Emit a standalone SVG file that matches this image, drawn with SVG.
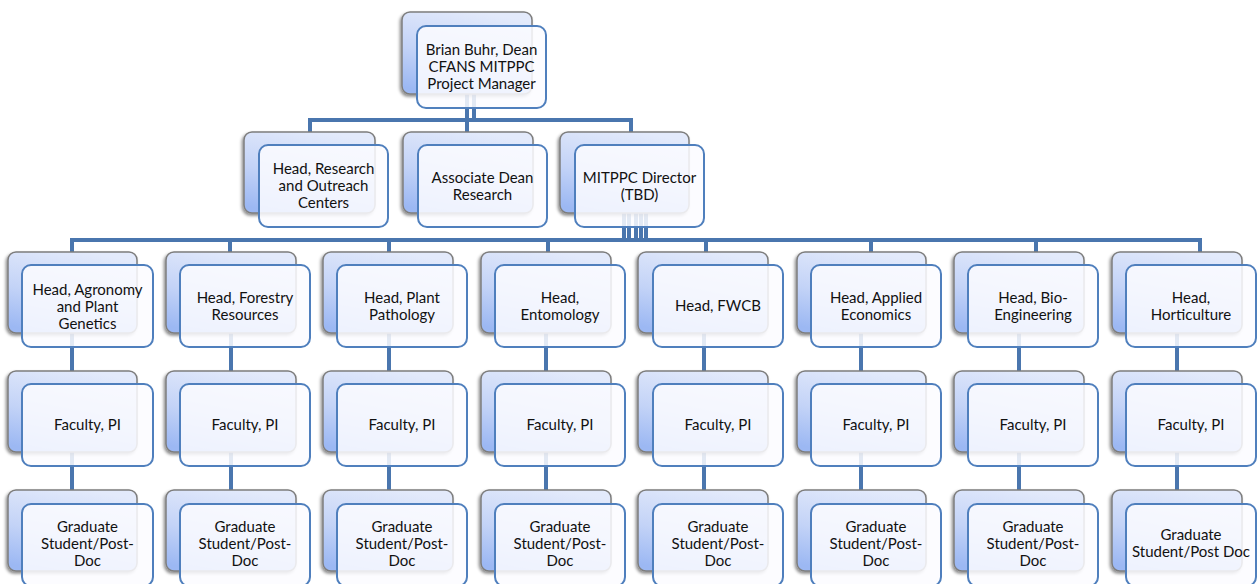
<svg xmlns="http://www.w3.org/2000/svg" width="1257" height="584" viewBox="0 0 1257 584">
<defs>
<linearGradient id="bg" x1="0.6" y1="0" x2="0.3" y2="1">
<stop offset="0" stop-color="#e3eafb"/>
<stop offset="0.55" stop-color="#c3d3f7"/>
<stop offset="1" stop-color="#9cb8f3"/>
</linearGradient>
<filter id="sh" x="-10%" y="-10%" width="120%" height="125%">
<feDropShadow dx="-1.5" dy="2" stdDeviation="1.5" flood-color="#000" flood-opacity="0.45"/>
</filter>
</defs>
<style>
.back{fill:url(#bg);stroke:#7d7d7d;stroke-width:1.5;filter:url(#sh)}
.front{fill:#fbfcff;fill-opacity:0.86;stroke:#4f7fbd;stroke-width:2}
.c{stroke:#4a76ae;stroke-width:4;fill:none;stroke-linecap:square}
text{font-family:Lato,"Open Sans","Liberation Sans",sans-serif;font-size:15px;fill:#111;text-anchor:middle}
</style>
<rect width="1257" height="584" fill="#fff"/>
<g id="connectors">
<path class="c" d="M467 60V132M474 60V120M310 120H631M310 120V140M631 120V140"/>
<path class="c" d="M624 180V240M629 180V240M636 180V240M641 180V240M646 180V240"/>
<path class="c" d="M72 240H1200M72 240V260M230 240V260M389 240V260M548 240V260M706 240V260M871 240V260M1036 240V260M1200 240V260"/>
<path class="c" d="M72 300V380M72 420V500M231 300V380M231 420V500M389 300V380M389 420V500M546 300V380M546 420V500M704 300V380M704 420V500M861 300V380M861 420V500M1019 300V380M1019 420V500M1177 300V380M1177 420V500"/>
</g>
<g id="n-dean"><rect class="back" x="402" y="12" width="130" height="82" rx="8"/><rect class="front" x="417" y="26" width="129" height="82" rx="9"/><text x="481.5"><tspan x="481.5" y="55">Brian Buhr, Dean</tspan><tspan x="481.5" y="72">CFANS MITPPC</tspan><tspan x="481.5" y="89">Project Manager</tspan></text></g>
<g id="n-research-centers"><rect class="back" x="244" y="132" width="131" height="81" rx="8"/><rect class="front" x="259" y="145" width="129" height="82" rx="9"/><text><tspan x="323.5" y="174">Head, Research</tspan><tspan x="323.5" y="191">and Outreach</tspan><tspan x="323.5" y="208">Centers</tspan></text></g>
<g id="n-assoc-dean"><rect class="back" x="403" y="132" width="130" height="81" rx="8"/><rect class="front" x="418" y="145" width="129" height="82" rx="9"/><text><tspan x="482.5" y="182.5">Associate Dean</tspan><tspan x="482.5" y="199.5">Research</tspan></text></g>
<g id="n-director"><rect class="back" x="560" y="132" width="129" height="81" rx="8"/><rect class="front" x="575" y="145" width="129" height="82" rx="9"/><text><tspan x="639.5" y="182.5">MITPPC Director</tspan><tspan x="639.5" y="199.5">(TBD)</tspan></text></g>

<g id="n-agronomy"><rect class="back" x="8" y="252" width="129" height="81" rx="8"/><rect class="front" x="22" y="265" width="131" height="82" rx="9"/><text><tspan x="87.5" y="295">Head, Agronomy</tspan><tspan x="87.5" y="312">and Plant</tspan><tspan x="87.5" y="329">Genetics</tspan></text></g>
<g id="n-forestry"><rect class="back" x="166" y="252" width="130" height="81" rx="8"/><rect class="front" x="180" y="265" width="130" height="82" rx="9"/><text><tspan x="245" y="303">Head, Forestry</tspan><tspan x="245" y="320">Resources</tspan></text></g>
<g id="n-pathology"><rect class="back" x="323" y="252" width="130" height="81" rx="8"/><rect class="front" x="337" y="265" width="130" height="82" rx="9"/><text><tspan x="402" y="303">Head, Plant</tspan><tspan x="402" y="320">Pathology</tspan></text></g>
<g id="n-entomology"><rect class="back" x="481" y="252" width="130" height="81" rx="8"/><rect class="front" x="495" y="265" width="130" height="82" rx="9"/><text><tspan x="560" y="303">Head,</tspan><tspan x="560" y="320">Entomology</tspan></text></g>
<g id="n-fwcb"><rect class="back" x="638" y="252" width="130" height="81" rx="8"/><rect class="front" x="653" y="265" width="130" height="82" rx="9"/><text><tspan x="718" y="311">Head, FWCB</tspan></text></g>
<g id="n-economics"><rect class="back" x="797" y="252" width="129" height="81" rx="8"/><rect class="front" x="811" y="265" width="130" height="82" rx="9"/><text><tspan x="876" y="303">Head, Applied</tspan><tspan x="876" y="320">Economics</tspan></text></g>
<g id="n-bioeng"><rect class="back" x="954" y="252" width="130" height="81" rx="8"/><rect class="front" x="968" y="265" width="130" height="82" rx="9"/><text><tspan x="1033" y="303">Head, Bio-</tspan><tspan x="1033" y="320">Engineering</tspan></text></g>
<g id="n-horticulture"><rect class="back" x="1112" y="252" width="130" height="81" rx="8"/><rect class="front" x="1126" y="265" width="130" height="82" rx="9"/><text><tspan x="1191" y="303">Head,</tspan><tspan x="1191" y="320">Horticulture</tspan></text></g>

<g id="n-fac1"><rect class="back" x="8" y="371" width="129" height="81" rx="8"/><rect class="front" x="22" y="384" width="131" height="82" rx="9"/><text x="87.5" y="430">Faculty, PI</text></g>
<g id="n-fac2"><rect class="back" x="166" y="371" width="130" height="81" rx="8"/><rect class="front" x="180" y="384" width="130" height="82" rx="9"/><text x="245" y="430">Faculty, PI</text></g>
<g id="n-fac3"><rect class="back" x="323" y="371" width="130" height="81" rx="8"/><rect class="front" x="337" y="384" width="130" height="82" rx="9"/><text x="402" y="430">Faculty, PI</text></g>
<g id="n-fac4"><rect class="back" x="481" y="371" width="130" height="81" rx="8"/><rect class="front" x="495" y="384" width="130" height="82" rx="9"/><text x="560" y="430">Faculty, PI</text></g>
<g id="n-fac5"><rect class="back" x="638" y="371" width="130" height="81" rx="8"/><rect class="front" x="653" y="384" width="130" height="82" rx="9"/><text x="718" y="430">Faculty, PI</text></g>
<g id="n-fac6"><rect class="back" x="797" y="371" width="129" height="81" rx="8"/><rect class="front" x="811" y="384" width="130" height="82" rx="9"/><text x="876" y="430">Faculty, PI</text></g>
<g id="n-fac7"><rect class="back" x="954" y="371" width="130" height="81" rx="8"/><rect class="front" x="968" y="384" width="130" height="82" rx="9"/><text x="1033" y="430">Faculty, PI</text></g>
<g id="n-fac8"><rect class="back" x="1112" y="371" width="130" height="81" rx="8"/><rect class="front" x="1126" y="384" width="130" height="82" rx="9"/><text x="1191" y="430">Faculty, PI</text></g>

<g id="n-grad1"><rect class="back" x="8" y="490" width="129" height="81" rx="8"/><rect class="front" x="22" y="504" width="131" height="82" rx="9"/><text><tspan x="87.5" y="532">Graduate</tspan><tspan x="87.5" y="549">Student/Post-</tspan><tspan x="87.5" y="566">Doc</tspan></text></g>
<g id="n-grad2"><rect class="back" x="166" y="490" width="130" height="81" rx="8"/><rect class="front" x="180" y="504" width="130" height="82" rx="9"/><text><tspan x="245" y="532">Graduate</tspan><tspan x="245" y="549">Student/Post-</tspan><tspan x="245" y="566">Doc</tspan></text></g>
<g id="n-grad3"><rect class="back" x="323" y="490" width="130" height="81" rx="8"/><rect class="front" x="337" y="504" width="130" height="82" rx="9"/><text><tspan x="402" y="532">Graduate</tspan><tspan x="402" y="549">Student/Post-</tspan><tspan x="402" y="566">Doc</tspan></text></g>
<g id="n-grad4"><rect class="back" x="481" y="490" width="130" height="81" rx="8"/><rect class="front" x="495" y="504" width="130" height="82" rx="9"/><text><tspan x="560" y="532">Graduate</tspan><tspan x="560" y="549">Student/Post-</tspan><tspan x="560" y="566">Doc</tspan></text></g>
<g id="n-grad5"><rect class="back" x="638" y="490" width="130" height="81" rx="8"/><rect class="front" x="653" y="504" width="130" height="82" rx="9"/><text><tspan x="718" y="532">Graduate</tspan><tspan x="718" y="549">Student/Post-</tspan><tspan x="718" y="566">Doc</tspan></text></g>
<g id="n-grad6"><rect class="back" x="797" y="490" width="129" height="81" rx="8"/><rect class="front" x="811" y="504" width="130" height="82" rx="9"/><text><tspan x="876" y="532">Graduate</tspan><tspan x="876" y="549">Student/Post-</tspan><tspan x="876" y="566">Doc</tspan></text></g>
<g id="n-grad7"><rect class="back" x="954" y="490" width="130" height="81" rx="8"/><rect class="front" x="968" y="504" width="130" height="82" rx="9"/><text><tspan x="1033" y="532">Graduate</tspan><tspan x="1033" y="549">Student/Post-</tspan><tspan x="1033" y="566">Doc</tspan></text></g>
<g id="n-grad8"><rect class="back" x="1112" y="490" width="130" height="81" rx="8"/><rect class="front" x="1126" y="504" width="130" height="82" rx="9"/><text><tspan x="1191" y="540">Graduate</tspan><tspan x="1191" y="557">Student/Post Doc</tspan></text></g>
</svg>
